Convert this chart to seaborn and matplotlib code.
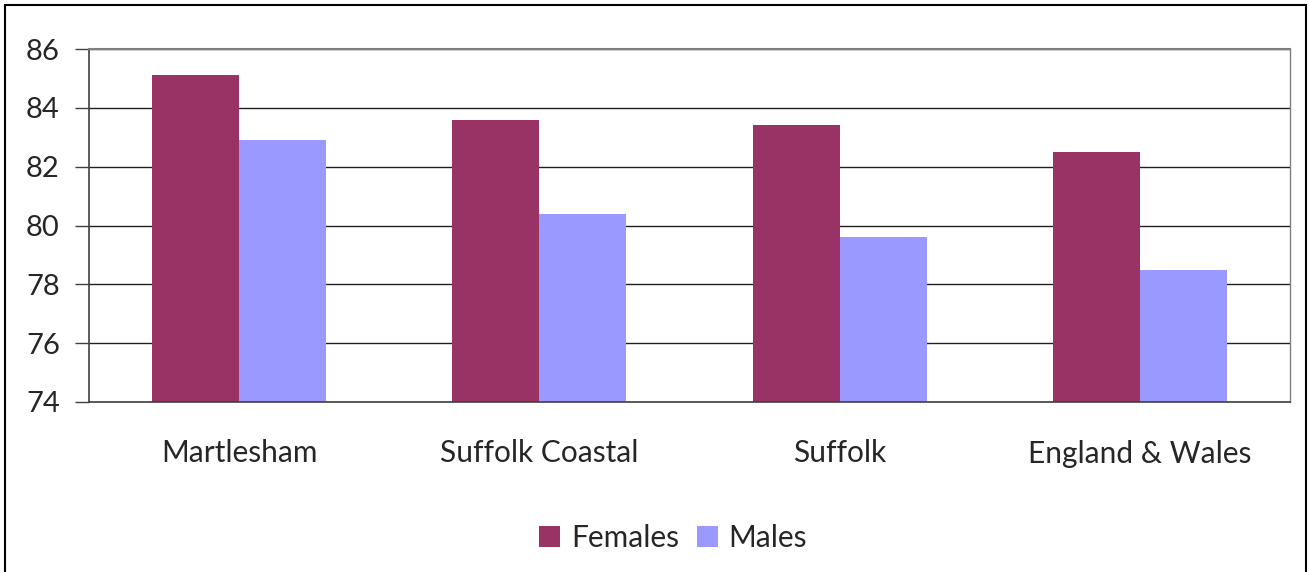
import matplotlib

matplotlib.use("Agg")

import matplotlib.pyplot as plt
import numpy as np
import pandas as pd
import seaborn as sns
from matplotlib.patches import Rectangle

areas = ["Martlesham", "Suffolk Coastal", "Suffolk", "England & Wales"]
females = [85.1, 83.6, 83.4, 82.5]
males = [82.9, 80.4, 79.6, 78.5]
series = ["Females", "Males"]
y_ticks = [74, 76, 78, 80, 82, 84, 86]

colors = {"Females": "#993366", "Males": "#9999FF"}

sns.set_theme(style="white")
plt.rcParams["font.family"] = ["Lato", "DejaVu Sans"]

df = pd.DataFrame(
    {
        "area": areas * 2,
        "value": females + males,
        "sex": ["Females"] * len(areas) + ["Males"] * len(areas),
    }
)

fig = plt.figure(figsize=(13.09, 5.72), dpi=100)
ax = fig.add_axes([89 / 1309, 1 - 402 / 572, 1201 / 1309, 353 / 572])

sns.barplot(
    data=df,
    x="area",
    y="value",
    hue="sex",
    hue_order=series,
    order=areas,
    palette=colors,
    saturation=1,
    width=0.58,
    gap=0,
    errorbar=None,
    ax=ax,
)
for bar in ax.patches:
    bar.set_edgecolor("none")

ax.set_ylim(74, 86)
ax.set_xlim(-0.5, len(areas) - 0.5)
ax.set_yticks(y_ticks)
ax.set_yticklabels([str(t) for t in y_ticks], fontsize=21)
ax.set_xlabel("")
ax.set_ylabel("")

ax.yaxis.grid(True, color="#202020", linewidth=1)
ax.set_axisbelow(True)

# category labels at centres, tick marks at boundaries
ax.set_xticks(np.arange(len(areas)))
ax.set_xticklabels(areas, fontsize=21.5)
ax.set_xticks(np.arange(len(areas) + 1) - 0.5, minor=True)
ax.tick_params(axis="x", which="major", length=0, pad=27)
ax.tick_params(axis="x", which="minor", length=10, width=1, color="#404040", direction="out")
ax.tick_params(axis="y", length=10, width=1, color="#404040", direction="out", left=True, pad=11)

for side in ["left", "bottom"]:
    ax.spines[side].set_color("#404040")
    ax.spines[side].set_linewidth(1.2)
ax.spines["top"].set_color("#808080")
ax.spines["top"].set_linewidth(1.5)
ax.spines["right"].set_color("#808080")
ax.spines["right"].set_linewidth(1)

handles, labels = ax.get_legend_handles_labels()
ax.legend_.remove()
fig.legend(
    handles,
    labels,
    loc="center",
    bbox_to_anchor=(673 / 1309, 1 - 538 / 572),
    ncol=2,
    frameon=False,
    fontsize=21.5,
    handlelength=0.7,
    handleheight=0.7,
    handletextpad=0.35,
    columnspacing=0.6,
)

fig.patches.append(
    Rectangle(
        (5 / 1309, -0.01),
        1301 / 1309,
        1 - 5 / 572 + 0.01,
        transform=fig.transFigure,
        fill=False,
        edgecolor="black",
        linewidth=1.5,
    )
)

fig.savefig("out.png", dpi=100)
